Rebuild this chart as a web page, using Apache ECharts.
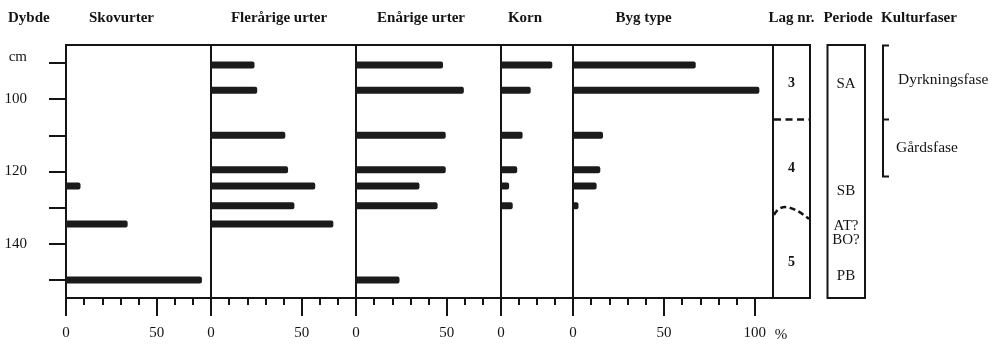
<!DOCTYPE html>
<html>
<head>
<meta charset="utf-8">
<style>
  html, body { margin: 0; padding: 0; background: #fff; }
  #chart { width: 997px; height: 346px; }
</style>
<script src="https://cdn.jsdelivr.net/npm/echarts@6/dist/echarts.min.js"></script>
</head>
<body>
<div id="chart"></div>
<script>
// Sample depths (cm) and the percentage of each plant group at that depth
const depths    = [90.5, 97.5, 110, 119.5, 124, 129.5, 134.5, 150];
const skovurter = [0, 0, 0, 0, 8, 0, 34, 75];
const flerarige = [24, 25.5, 41, 42.5, 57.5, 46, 67.5, 0];
const enarige   = [48, 59.5, 49.5, 49.5, 35, 45, 0, 24];
const korn      = [28.5, 16.5, 12, 9, 4.5, 6.5, 0, 0];
const byg       = [67.5, 102.5, 16.5, 15, 13, 3, 0, 0];

const panelTitles = ['Skovurter', 'Flerårige urter', 'Enårige urter', 'Korn', 'Byg type'];
const depthTicks  = [90, 100, 110, 120, 130, 140, 150];
const depthLabels = [100, 120, 140];

const layerNames  = ['3', '4', '5'];
const periodNames = ['SA', 'SB', 'AT?', 'BO?', 'PB'];
const phaseNames  = ['Dyrkningsfase', 'Gårdsfase'];

const SERIF = '"Liberation Serif", "DejaVu Serif", serif';
const INK = '#141414';

const panels = [
  { title: panelTitles[0], values: skovurter, left: 66,  width: 145, max: 80,  major: [0, 50] },
  { title: panelTitles[1], values: flerarige, left: 211, width: 145, max: 80,  major: [0, 50] },
  { title: panelTitles[2], values: enarige,   left: 356, width: 145, max: 80,  major: [0, 50] },
  { title: panelTitles[3], values: korn,      left: 501, width: 72,  max: 40,  major: [0] },
  { title: panelTitles[4], values: byg,       left: 573, width: 200, max: 110, major: [0, 50, 100] }
];

const TOP = 45, HEIGHT = 253;
const grid = [], xAxis = [], yAxis = [], series = [];

panels.forEach((p, i) => {
  grid.push({ left: p.left, top: TOP, width: p.width, height: HEIGHT,
              show: true, borderColor: INK, borderWidth: 2, backgroundColor: 'transparent' });
  const minorTicks = [];
  for (let v = 0; v <= Math.min(p.max, 100); v += 10) minorTicks.push(v);
  // short ticks every 10 %
  xAxis.push({ gridIndex: i, type: 'value', min: 0, max: p.max, position: 'bottom',
    splitLine: { show: false },
    axisLine: { show: true, lineStyle: { color: INK, width: 2 } },
    axisTick: { show: true, inside: false, length: 7, customValues: minorTicks, lineStyle: { color: INK, width: 2 } },
    axisLabel: { show: false } });
  // long labelled ticks
  xAxis.push({ gridIndex: i, type: 'value', min: 0, max: p.max, position: 'bottom',
    splitLine: { show: false },
    axisLine: { show: false },
    axisTick: { show: true, inside: false, length: 18, customValues: p.major, lineStyle: { color: INK, width: 2 } },
    axisLabel: { show: true, customValues: p.major, margin: 28, color: INK,
                 fontFamily: SERIF, fontSize: 15 } });
  yAxis.push({ gridIndex: i, type: 'value', inverse: true, min: 85, max: 155,
    show: i === 0,
    splitLine: { show: false },
    axisLine: { show: i === 0, lineStyle: { color: INK, width: 2 } },
    axisTick: { show: true, inside: false, length: 17, customValues: depthTicks, lineStyle: { color: INK, width: 2 } },
    axisLabel: { show: true, customValues: depthLabels, margin: 39, color: INK,
                 fontFamily: SERIF, fontSize: 15 } });
  series.push({
    type: 'custom', xAxisIndex: i * 2, yAxisIndex: i,
    data: p.values.map((v, k) => [v, depths[k]]),
    encode: { x: 0, y: 1 },
    renderItem: function (params, api) {
      const v = api.value(0);
      if (!v) return null;
      const d = api.value(1);
      const a = api.coord([0, d]);
      const b = api.coord([v, d]);
      return { type: 'rect',
        shape: { x: a[0], y: a[1] - 3.5, width: b[0] - a[0], height: 7, r: [0, 2, 2, 0] },
        style: { fill: '#1b1b1b' } };
    }
  });
});

// Layer column (Lag nr.) shares the depth frame
grid.push({ left: 773, top: TOP, width: 37, height: HEIGHT,
            show: true, borderColor: INK, borderWidth: 2, backgroundColor: 'transparent' });
xAxis.push({ gridIndex: 5, type: 'value', show: false, min: 0, max: 1 });
yAxis.push({ gridIndex: 5, type: 'value', show: false, inverse: true, min: 85, max: 155 });

function label(text, x, y, opts) {
  return Object.assign({ type: 'text', x: x, y: y,
    style: Object.assign({ text: text, fill: INK, font: '15px ' + SERIF,
      textAlign: 'center', textVerticalAlign: 'middle' }, opts || {}) });
}
const bold = { font: 'bold 15px ' + SERIF };

const graphic = [
  label('Dybde', 8, 18, Object.assign({ textAlign: 'left' }, bold)),
  label(panelTitles[0], 121.5, 18, bold),
  label(panelTitles[1], 279, 18, bold),
  label(panelTitles[2], 421, 18, bold),
  label(panelTitles[3], 525, 18, bold),
  label(panelTitles[4], 643.5, 18, bold),
  label('Lag nr.', 791.5, 18, bold),
  label('Periode', 848, 18, bold),
  label('Kulturfaser', 919, 18, bold),
  label('cm', 27, 57, { textAlign: 'right' }),
  label('%', 781, 335),
  // layer numbers
  label(layerNames[0], 791.5, 83, { font: 'bold 14px ' + SERIF }),
  label(layerNames[1], 791.5, 168, { font: 'bold 14px ' + SERIF }),
  label(layerNames[2], 791.5, 262, { font: 'bold 14px ' + SERIF }),
  // layer boundaries
  { type: 'line', shape: { x1: 774, y1: 119.5, x2: 809, y2: 119.5 },
    style: { stroke: INK, lineWidth: 2.5, lineDash: [7, 4.5] } },
  { type: 'bezierCurve', shape: { x1: 774, y1: 215, cpx1: 780, cpy1: 203, cpx2: 792, cpy2: 205, x2: 809, y2: 219 },
    style: { stroke: INK, lineWidth: 2.5, lineDash: [6, 3.5], fill: null } },
  // period box
  { type: 'rect', shape: { x: 827.5, y: 45, width: 37.5, height: 253 },
    style: { stroke: INK, lineWidth: 2, fill: null } },
  label(periodNames[0], 846, 84),
  label(periodNames[1], 846, 191.5),
  label(periodNames[2], 846, 226.5),
  label(periodNames[3], 846, 240),
  label(periodNames[4], 846, 276),
  // cultural phase bracket
  { type: 'polyline', shape: { points: [[889, 45.5], [883, 45.5], [883, 176.5], [889, 176.5]] },
    style: { stroke: INK, lineWidth: 2, fill: null } },
  { type: 'line', shape: { x1: 883, y1: 119.5, x2: 889, y2: 119.5 },
    style: { stroke: INK, lineWidth: 2 } },
  label(phaseNames[0], 898, 80, { textAlign: 'left', font: '15.5px ' + SERIF }),
  label(phaseNames[1], 896, 148, { textAlign: 'left', font: '15.5px ' + SERIF })
];

const chart = echarts.init(document.getElementById('chart'), null, { renderer: 'canvas' });
chart.setOption({
  backgroundColor: '#fff',
  animation: false,
  grid: grid,
  xAxis: xAxis,
  yAxis: yAxis,
  series: series,
  graphic: graphic
});
</script>
</body>
</html>
